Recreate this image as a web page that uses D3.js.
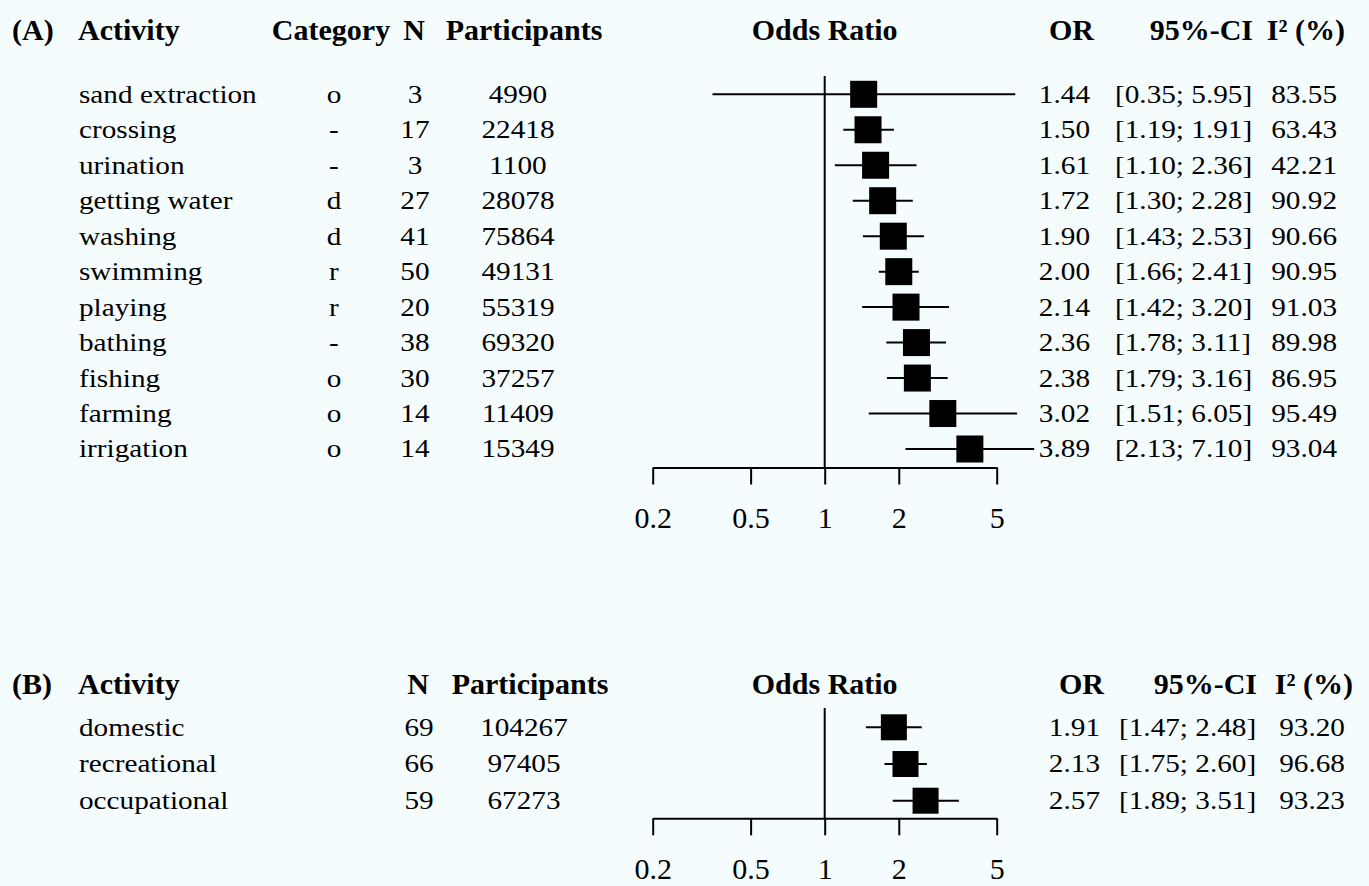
<!DOCTYPE html>
<html>
<head>
<meta charset="utf-8">
<script src="https://cdn.jsdelivr.net/npm/d3@7.9.0/dist/d3.min.js"></script>
<style>
  body { margin: 0; background: #f5fcfd; }
  svg text { font-family: "Liberation Serif", "Times New Roman", serif; fill: #000; }
  .hdr { font-weight: bold; font-size: 30px; }
  .cell { font-size: 25px; }
  .tick text { font-size: 30px; }
</style>
</head>
<body>
<svg id="chart" width="1369" height="886"></svg>
<script>
// panel A data
const activitiesA = ['sand extraction', 'crossing', 'urination', 'getting water', 'washing',
  'swimming', 'playing', 'bathing', 'fishing', 'farming', 'irrigation'];
const categoriesA = ['o', '-', '-', 'd', 'd', 'r', 'r', '-', 'o', 'o', 'o'];
const studiesA = [3, 17, 3, 27, 41, 50, 20, 38, 30, 14, 14];
const participantsA = [4990, 22418, 1100, 28078, 75864, 49131, 55319, 69320, 37257, 11409, 15349];
const orA = [1.44, 1.50, 1.61, 1.72, 1.90, 2.00, 2.14, 2.36, 2.38, 3.02, 3.89];
const lowerA = [0.35, 1.19, 1.10, 1.30, 1.43, 1.66, 1.42, 1.78, 1.79, 1.51, 2.13];
const upperA = [5.95, 1.91, 2.36, 2.28, 2.53, 2.41, 3.20, 3.11, 3.16, 6.05, 7.10];
const i2A = [83.55, 63.43, 42.21, 90.92, 90.66, 90.95, 91.03, 89.98, 86.95, 95.49, 93.04];

// panel B data
const activitiesB = ['domestic', 'recreational', 'occupational'];
const studiesB = [69, 66, 59];
const participantsB = [104267, 97405, 67273];
const orB = [1.91, 2.13, 2.57];
const lowerB = [1.47, 1.75, 1.89];
const upperB = [2.48, 2.60, 3.51];
const i2B = [93.20, 96.68, 93.23];

const tickValues = [0.2, 0.5, 1, 2, 5];

const svg = d3.select('#chart');
const x = d3.scaleLog().domain([0.2, 5]).range([652.7, 996.7]);
const fmt2 = d3.format('.2f');
const STRETCH = 1.17; // the table text in the figure is a little wider than Times

function text(g, str, px, py, anchor, cls, sx = 1) {
  g.append('text')
    .attr('class', cls)
    .attr('transform', sx === 1 ? null : `scale(${sx},1)`)
    .attr('x', px / sx)
    .attr('y', py)
    .attr('text-anchor', anchor)
    .text(str);
}

function drawPanel(cfg) {
  const g = svg.append('g');
  const rows = cfg.labels.map((label, i) => ({
    label,
    cat: cfg.categories ? cfg.categories[i] : null,
    n: cfg.studies[i],
    part: cfg.participants[i],
    or: cfg.or[i], lo: cfg.lower[i], hi: cfg.upper[i], i2: cfg.i2[i]
  }));

  const y = d3.scalePoint().domain(cfg.labels).range(cfg.yRange);
  const c = cfg.cols;

  // headers
  const hy = cfg.headerY;
  text(g, cfg.tag, 12, hy, 'start', 'hdr');
  text(g, 'Activity', 78, hy, 'start', 'hdr');
  if (cfg.categories) text(g, 'Category', c.cat - 3, hy, 'middle', 'hdr');
  text(g, 'N', c.n - 1, hy, 'middle', 'hdr');
  text(g, 'Participants', c.part + 6, hy, 'middle', 'hdr');
  text(g, 'Odds Ratio', x(1), hy, 'middle', 'hdr');
  text(g, 'OR', c.or + 4, hy, 'end', 'hdr');
  text(g, '95%-CI', c.ci + 138, hy, 'end', 'hdr');
  text(g, 'I² (%)', c.i2 + 8, hy, 'end', 'hdr');

  // table cells
  rows.forEach(d => {
    const ty = y(d.label) + 8.5;
    text(g, d.label, 79, ty, 'start', 'cell', STRETCH);
    if (d.cat !== null) text(g, d.cat, c.cat, ty, 'middle', 'cell', STRETCH);
    text(g, d.n, c.n, ty, 'middle', 'cell', STRETCH);
    text(g, d.part, c.part, ty, 'middle', 'cell', STRETCH);
    text(g, fmt2(d.or), c.or, ty, 'end', 'cell', STRETCH);
    text(g, `[${fmt2(d.lo)}; ${fmt2(d.hi)}]`, c.ci, ty, 'start', 'cell', STRETCH);
    text(g, fmt2(d.i2), c.i2, ty, 'end', 'cell', STRETCH);
  });

  // reference line at OR = 1
  g.append('line')
    .attr('x1', x(1)).attr('x2', x(1))
    .attr('y1', cfg.refTop).attr('y2', cfg.axisY)
    .attr('stroke', '#000').attr('stroke-width', 2);

  // confidence intervals
  g.selectAll('line.ci').data(rows).join('line')
    .attr('class', 'ci')
    .attr('x1', d => x(d.lo)).attr('x2', d => x(d.hi))
    .attr('y1', d => y(d.label)).attr('y2', d => y(d.label))
    .attr('stroke', '#000').attr('stroke-width', 2);

  // point estimates
  const s = cfg.box;
  g.selectAll('rect.est').data(rows).join('rect')
    .attr('class', 'est')
    .attr('x', d => x(d.or) - s / 2)
    .attr('y', d => y(d.label) - s / 2)
    .attr('width', s).attr('height', s)
    .attr('fill', '#000');

  // axis
  const axis = d3.axisBottom(x)
    .tickValues(tickValues)
    .tickFormat(d => String(d))
    .tickSize(17)
    .tickSizeOuter(0)
    .tickPadding(22);
  const ag = g.append('g')
    .attr('transform', `translate(0,${cfg.axisY})`)
    .call(axis);
  ag.select('.domain').attr('stroke-width', 2);
  ag.selectAll('.tick line').attr('stroke-width', 2);
  ag.selectAll('.tick text').attr('font-family', null).attr('font-size', null);
}

drawPanel({
  tag: '(A)',
  labels: activitiesA, categories: categoriesA, studies: studiesA,
  participants: participantsA, or: orA, lower: lowerA, upper: upperA, i2: i2A,
  headerY: 40, yRange: [94.3, 449], refTop: 76, axisY: 467.5, box: 27,
  cols: { cat: 334, n: 415, part: 518, or: 1090, ci: 1115, i2: 1337 }
});

drawPanel({
  tag: '(B)',
  labels: activitiesB, categories: null, studies: studiesB,
  participants: participantsB, or: orB, lower: lowerB, upper: upperB, i2: i2B,
  headerY: 694, yRange: [727.3, 800.7], refTop: 708, axisY: 818.3, box: 26,
  cols: { cat: null, n: 419, part: 524, or: 1100, ci: 1119, i2: 1345 }
});
</script>
</body>
</html>
